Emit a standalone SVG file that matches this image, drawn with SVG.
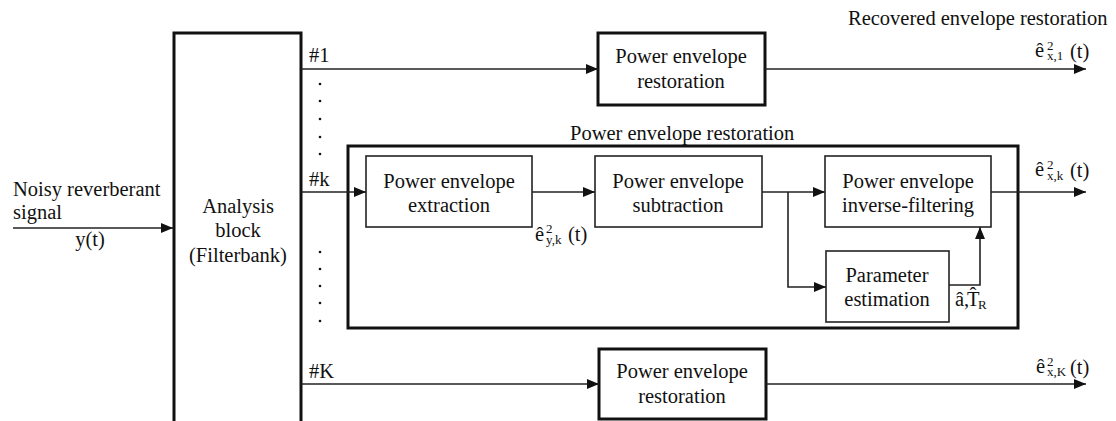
<svg xmlns="http://www.w3.org/2000/svg" width="1116" height="421" viewBox="0 0 1116 421" font-family="'Liberation Serif', 'Times New Roman', serif">
<style>
text{font-family:"Liberation Serif","Times New Roman",serif;font-size:20.5px;fill:#111}
.c{text-anchor:middle}
.s{font-size:13px}
.thick{fill:#fff;stroke:#111;stroke-width:3}
.thin{fill:#fff;stroke:#222;stroke-width:1.6}
.ln{fill:none;stroke:#222;stroke-width:1.6}
</style>
<defs>
<marker id="ah" viewBox="0 0 12 10" refX="12" refY="5" markerWidth="12" markerHeight="10" markerUnits="userSpaceOnUse" orient="auto">
<path d="M0,0 L12,5 L0,10 Z" fill="#111"/>
</marker>
</defs>
<rect width="1116" height="421" fill="#fff"/>

<g id="analysis">
<rect class="thick" x="174" y="33" width="127" height="400"/>
<text class="c" x="238" y="213">Analysis</text>
<text class="c" x="238" y="237">block</text>
<text class="c" x="238" y="262">(Filterbank)</text>
</g>

<g id="restoration1">
<rect class="thick" x="598" y="33" width="167" height="72"/>
<text class="c" x="681" y="63">Power envelope</text>
<text class="c" x="681" y="88">restoration</text>
</g>

<g id="restorationk">
<rect class="thick" x="348" y="146" width="670" height="182"/>
<text x="570" y="140">Power envelope restoration</text>
</g>

<g id="extraction">
<rect class="thin" x="366" y="156" width="166" height="71"/>
<text class="c" x="449" y="188">Power envelope</text>
<text class="c" x="449" y="212">extraction</text>
</g>

<g id="subtraction">
<rect class="thin" x="595" y="156" width="167" height="71"/>
<text class="c" x="678" y="188">Power envelope</text>
<text class="c" x="678" y="212">subtraction</text>
</g>

<g id="inverse">
<rect class="thin" x="825" y="156" width="166" height="71"/>
<text class="c" x="908" y="188">Power envelope</text>
<text class="c" x="908" y="212">inverse-filtering</text>
</g>

<g id="parameter">
<rect class="thin" x="826" y="251" width="123" height="71"/>
<text class="c" x="887" y="282">Parameter</text>
<text class="c" x="887" y="306">estimation</text>
</g>

<g id="restorationK">
<rect class="thick" x="599" y="349" width="167" height="70"/>
<text class="c" x="682" y="378">Power envelope</text>
<text class="c" x="682" y="403">restoration</text>
</g>

<g id="connectors">
<path class="ln" d="M13 228 H173" marker-end="url(#ah)"/>
<path class="ln" d="M301 69 H598" marker-end="url(#ah)"/>
<path class="ln" d="M301 192 H366" marker-end="url(#ah)"/>
<path class="ln" d="M301 384 H599" marker-end="url(#ah)"/>
<path class="ln" d="M532 192 H595" marker-end="url(#ah)"/>
<path class="ln" d="M762 192 H825" marker-end="url(#ah)"/>
<path class="ln" d="M788 192 V287 H826" marker-end="url(#ah)"/>
<path class="ln" d="M949 285 H980 V227" marker-end="url(#ah)"/>
<path class="ln" d="M765 69 H1086" marker-end="url(#ah)"/>
<path class="ln" d="M991 192 H1086" marker-end="url(#ah)"/>
<path class="ln" d="M766 384 H1086" marker-end="url(#ah)"/>
</g>

<g id="labels">
<text x="13" y="196">Noisy reverberant</text>
<text x="13" y="219">signal</text>
<text class="c" x="90" y="246">y(t)</text>
<text x="309" y="62">#1</text>
<text x="309" y="186">#k</text>
<text x="309" y="378">#K</text>
<g fill="#111">
<circle cx="320" cy="84" r="1.3"/><circle cx="320" cy="101" r="1.3"/><circle cx="320" cy="119" r="1.3"/><circle cx="320" cy="137" r="1.3"/><circle cx="320" cy="154" r="1.3"/>
<circle cx="320" cy="252" r="1.3"/><circle cx="320" cy="269" r="1.3"/><circle cx="320" cy="286" r="1.3"/><circle cx="320" cy="303" r="1.3"/><circle cx="320" cy="321" r="1.3"/>
</g>
<text x="848" y="25">Recovered envelope restoration</text>

<text x="1035" y="57">ê</text><text class="s" x="1047" y="50">2</text><text class="s" x="1047" y="60">x,1</text><text x="1070" y="58">(t)</text>
<text x="1035" y="176">ê</text><text class="s" x="1047" y="169">2</text><text class="s" x="1047" y="180">x,k</text><text x="1070" y="177">(t)</text>
<text x="1036" y="373">ê</text><text class="s" x="1047" y="366">2</text><text class="s" x="1047" y="376">x,K</text><text x="1070" y="374">(t)</text>
<text x="535" y="241">ê</text><text class="s" x="546" y="233">2</text><text class="s" x="546" y="244">y,k</text><text x="568" y="241">(t)</text>

<text x="955" y="306">â,</text><text x="967" y="306">T</text><text class="c" x="973" y="302">ˆ</text><text class="s" x="978" y="309">R</text>
</g>
</svg>
